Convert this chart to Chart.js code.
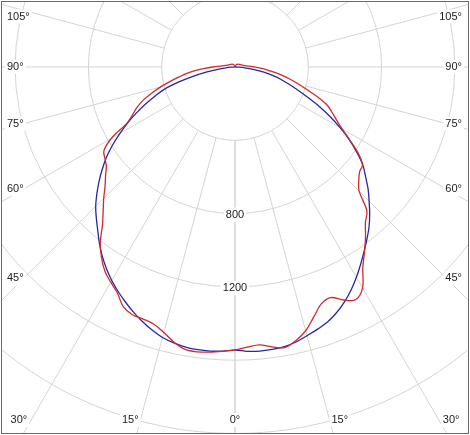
<!DOCTYPE html>
<html>
<head>
<meta charset="utf-8">
<script src="https://cdn.jsdelivr.net/npm/chart.js@4.4.1/dist/chart.umd.min.js"></script>
<style>
  html, body { margin: 0; padding: 0; background: #fff; }
  #wrap { width: 470px; height: 435px; }
</style>
</head>
<body>
<div id="wrap"><canvas id="c" width="470" height="435"></canvas></div>
<script>
// gamma angles (deg from nadir), shared by every half-plane
const angles = [0, 2.5, 5, 7.5, 10, 12.5, 15, 17.5, 20, 22.5, 25, 27.5, 30, 32.5, 35, 37.5, 40, 42.5, 45, 47.5,
  50, 52.5, 55, 57.5, 60, 62.5, 65, 67.5, 70, 72.5, 75, 77.5, 80, 82.5, 85, 87.5, 90, 95, 105, 135, 180];

// red curve, left and right half
const redLeft = [1544, 1553, 1562, 1568, 1565, 1538, 1500, 1472, 1464, 1463, 1443, 1390, 1356, 1321, 1270, 1208, 1125, 1065, 1013, 962,
  922, 885, 867, 848, 778, 666, 617, 580, 536, 478, 420, 362, 310, 265, 215, 165, 120, 70, 40, 22, 8];
const redRight = [1544, 1530, 1522, 1540, 1555, 1530, 1490, 1430, 1376, 1362, 1403, 1430, 1392, 1298, 1232, 1170, 1107, 1065, 958, 916,
  888, 877, 821, 744, 675, 624, 584, 545, 482, 413, 358, 308, 262, 215, 175, 140, 105, 65, 40, 22, 8];

// blue curve, left and right half
const blueLeft = [1545, 1552, 1556, 1556, 1552, 1542, 1528, 1505, 1478, 1448, 1415, 1381, 1345, 1305, 1262, 1215, 1165, 1120, 1075, 1022,
  968, 912, 855, 792, 725, 660, 593, 530, 465, 405, 320, 235, 160, 95, 50, 20, 5, 3, 3, 3, 3];
const blueRight = [1548, 1553, 1556, 1554, 1550, 1537, 1518, 1500, 1480, 1450, 1414, 1372, 1325, 1276, 1228, 1183, 1138, 1088, 1035, 985,
  930, 880, 812, 740, 662, 583, 504, 425, 360, 305, 258, 210, 160, 100, 55, 22, 5, 3, 3, 3, 3];

const rings = [400, 800, 1200, 1600, 2000];
const ringLabels = [800, 1200];
const spokes = [0, 15, 30, 45, 60, 75, 90, 105, 120, 135, 150, 165, 180];
const sideTicks = [45, 60, 75, 90, 105];
const bottomTicks = [0, 15, 30];

const W = 470, H = 435, CX = 235, CY = 67;
const PER_PX = 400 / 73.3;

function toPoints(left, right) {
  const pts = [];
  for (let i = angles.length - 1; i >= 0; i--) {
    const a = angles[i] * Math.PI / 180;
    pts.push({x: -left[i] * Math.sin(a), y: -left[i] * Math.cos(a)});
  }
  for (let i = 1; i < angles.length; i++) {
    const a = angles[i] * Math.PI / 180;
    pts.push({x: right[i] * Math.sin(a), y: -right[i] * Math.cos(a)});
  }
  return pts;
}

const frame = {l: 1.5, t: 1.5, r: 468.5, b: 433.5};
const FONT = '11px "Liberation Sans", Arial, sans-serif';

function boxText(ctx, txt, x, y, align) {
  const w = ctx.measureText(txt).width;
  let x0 = x;
  if (align === 'center') x0 = x - w / 2;
  if (align === 'right') x0 = x - w;
  ctx.fillStyle = '#fff';
  ctx.fillRect(x0 - 2, y - 7, w + 4, 14);
  ctx.fillStyle = '#222';
  ctx.textAlign = 'left';
  ctx.fillText(txt, x0, y);
}

const polarGrid = {
  id: 'polarGrid',
  beforeDatasetsDraw(chart) {
    const {ctx, scales: {x, y}} = chart;
    const cx = x.getPixelForValue(0), cy = y.getPixelForValue(0);
    const k = x.getPixelForValue(1000) - cx;
    ctx.save();
    ctx.beginPath();
    ctx.rect(frame.l, frame.t, frame.r - frame.l, frame.b - frame.t);
    ctx.clip();
    ctx.strokeStyle = '#d4d4d4';
    ctx.lineWidth = 1;
    rings.forEach(v => {
      ctx.beginPath();
      ctx.arc(cx, cy, v * k / 1000, 0, Math.PI * 2);
      ctx.stroke();
    });
    spokes.forEach(g => {
      const a = g * Math.PI / 180;
      [-1, 1].forEach(s => {
        ctx.beginPath();
        ctx.moveTo(x.getPixelForValue(s * 400 * Math.sin(a)), y.getPixelForValue(-400 * Math.cos(a)));
        ctx.lineTo(x.getPixelForValue(s * 3000 * Math.sin(a)), y.getPixelForValue(-3000 * Math.cos(a)));
        ctx.stroke();
      });
    });

    ctx.font = FONT;
    ctx.textBaseline = 'middle';
    ringLabels.forEach(v => boxText(ctx, String(v), cx, y.getPixelForValue(-v) + 1, 'center'));

    sideTicks.forEach(g => {
      const a = g * Math.PI / 180;
      const txt = g + '°';
      const w = ctx.measureText(txt).width;
      const edge = cx - (frame.l + 5.5 + w);
      let ty = cy + edge * Math.cos(a) / Math.sin(a);
      ty = Math.max(ty, frame.t + 15);
      boxText(ctx, txt, frame.l + 5.5, ty, 'left');
      boxText(ctx, txt, frame.r - 6.5, ty, 'right');
    });

    const by = 420;
    bottomTicks.forEach(g => {
      const txt = g + '°';
      if (g === 0) { boxText(ctx, txt, cx, by, 'center'); return; }
      const dx = (427 - cy) * Math.tan(g * Math.PI / 180);
      boxText(ctx, txt, cx - dx, by, 'right');
      boxText(ctx, txt, cx + dx, by, 'left');
    });
    ctx.restore();
  },
  afterDraw(chart) {
    const ctx = chart.ctx;
    ctx.save();
    ctx.strokeStyle = '#6a6a6a';
    ctx.lineWidth = 1;
    ctx.strokeRect(frame.l, frame.t, frame.r - frame.l, frame.b - frame.t);
    ctx.restore();
  }
};

new Chart(document.getElementById('c'), {
  type: 'scatter',
  data: {
    datasets: [
      {data: toPoints(redLeft, redRight), showLine: true, borderColor: '#d02a2a', borderWidth: 1.3, pointRadius: 0, tension: 0.35},
      {data: toPoints(blueLeft, blueRight), showLine: true, borderColor: '#2626a6', borderWidth: 1.3, pointRadius: 0, tension: 0.35}
    ]
  },
  options: {
    responsive: false,
    animation: false,
    devicePixelRatio: 1,
    events: [],
    layout: {padding: 0},
    plugins: {legend: {display: false}, tooltip: {enabled: false}},
    scales: {
      x: {type: 'linear', display: false, min: -CX * PER_PX, max: (W - CX) * PER_PX},
      y: {type: 'linear', display: false, min: -(H - CY) * PER_PX, max: CY * PER_PX}
    }
  },
  plugins: [polarGrid]
});
</script>
</body>
</html>
